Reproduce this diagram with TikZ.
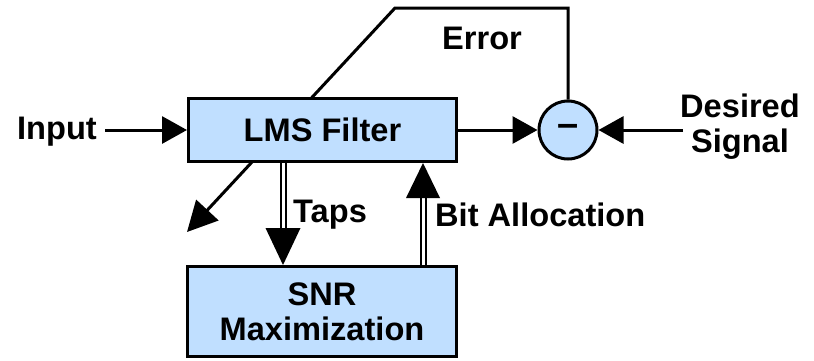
\documentclass[tikz,border=0pt]{standalone}
\usepackage{fontspec}
\setmainfont{Liberation Sans}
\usetikzlibrary{arrows.meta,backgrounds,calc}
\definecolor{boxblue}{RGB}{192,223,255}
\begin{document}
\begin{tikzpicture}[x=1pt,y=-1pt, font=\fontsize{32.6}{35}\selectfont\bfseries,
 blk/.style={draw, line width=3pt, fill=boxblue, align=center, inner sep=0pt},
 con/.style={line width=3pt},
 tip/.style={-{Triangle[length=25pt,width=27pt]}},
 dbl/.style={double, double distance=3pt, line width=2pt}]
\useasboundingbox (0,0) rectangle (814,360);
\node[blk, minimum width=268pt, minimum height=63pt] (lms) at (322.5,130) {LMS Filter};
\node[blk, minimum width=269pt, minimum height=90pt] (snr) at (322,311.5) {SNR\\Maximization};
\node[blk, circle, minimum size=58pt, font=\fontsize{38}{38}\selectfont\bfseries] (sum) at (568,130) {–};
\node (in) at (57,132) {Input};
\node[align=center] (des) at (740,127) {Desired\\Signal};
\node (err) at (482,38) {Error};
\node[anchor=west, inner sep=0pt] (taps) at (293,215) {Taps};
\node[anchor=west, inner sep=0pt] (bit) at (435,215) {Bit Allocation};
\coordinate (top) at (395,8);
\coordinate (adapt) at (187,232);
\coordinate (tx) at (283,0);
\coordinate (bx) at (423,0);
\coordinate (inS) at (105,130);
\coordinate (desS) at (683,130);
\begin{scope}[on background layer]
\draw[con, -{Triangle[length=30pt,width=30pt]}] (sum.north) -- (sum.north |- top) -- (top) -- (adapt);
\end{scope}
\draw[con,tip] (inS) -- (lms.west);
\draw[con,tip] (lms.east) -- (sum.west);
\draw[con,tip] (desS) -- (sum.east);
\draw[dbl] (tx |- lms.south) -- ($(tx |- snr.north)+(0,-37)$);
\fill (tx |- snr.north) -- ++(-17.5,-37) -- ++(35,0) -- cycle;
\draw[dbl] (bx |- snr.north) -- ($(bx |- lms.south)+(0,35)$);
\fill (bx |- lms.south) -- ++(-17,35) -- ++(34,0) -- cycle;
\end{tikzpicture}
\end{document}
